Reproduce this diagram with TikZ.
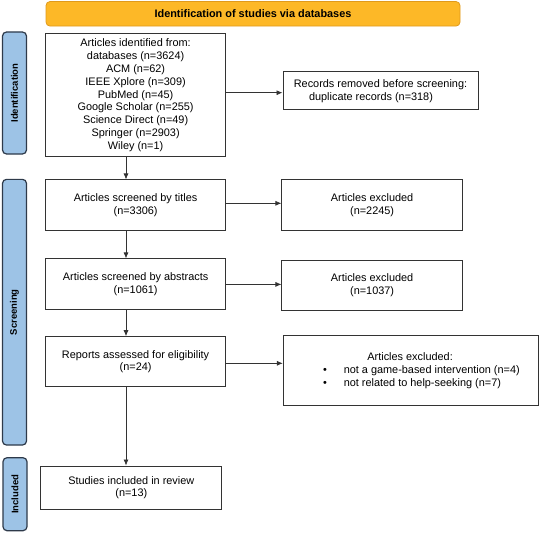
\documentclass[tikz,border=0pt]{standalone}
\usepackage{fontspec}
\setmainfont{Liberation Sans}
\usetikzlibrary{arrows.meta}
\definecolor{bannerfill}{HTML}{FDB827}
\definecolor{bannerline}{HTML}{E09A1C}
\definecolor{sidefill}{HTML}{9DC3E6}
\definecolor{sideline}{HTML}{2E3A4A}
\tikzset{
  boxst/.style={draw=black!80, line width=1pt, fill=white, inner sep=0pt,
    align=center, font=\fontsize{10.9}{12.8}\selectfont},
  bannerst/.style={draw=bannerline, line width=0.8pt, fill=bannerfill, rounded corners=4pt,
    inner sep=0pt, font=\bfseries\fontsize{10.9}{12.8}\selectfont},
  sidest/.style={draw=sideline, line width=1.2pt, fill=sidefill, rounded corners=4pt,
    inner sep=0pt, rotate=90, font=\bfseries\fontsize{9.5}{11}\selectfont},
  arr/.style={-{Latex[length=6pt,width=5pt]}, line width=0.7pt, draw=black!80}
}
\begin{document}
\begin{tikzpicture}[x=1pt,y=-1pt]
\useasboundingbox (0,0) rectangle (540,532);
% banner
\node[bannerst, minimum width=414pt, minimum height=24.5pt] (ban) at (253,13.8) {Identification of studies via databases};
% side bars
\node[sidest, minimum width=122pt, minimum height=24pt] (sid) at (14.5,93) {Identification};
\node[sidest, minimum width=265.7pt, minimum height=24pt] (sscr) at (14.5,312.2) {Screening};
\node[sidest, minimum width=73pt, minimum height=24pt] (sinc) at (15,494.2) {Included};
% boxes
\node[boxst, minimum width=179.7pt, minimum height=123pt] (b1) at (135.6,95.2)
  {Articles identified from:\\databases (n=3624)\\ACM (n=62)\\IEEE Xplore (n=309)\\PubMed (n=45)\\Google Scholar (n=255)\\Science Direct (n=49)\\Springer (n=2903)\\Wiley (n=1)};
\node[boxst, minimum width=195pt, minimum height=38.3pt] (rem) at (380.5,90.8)
  {Records removed before screening:\\duplicate records (n=318)\hspace*{19pt}};
\node[boxst, minimum width=179.5pt, minimum height=50.7pt] (tit) at (135.6,205.3)
  {Articles screened by titles\\(n=3306)};
\node[boxst, minimum width=180.3pt, minimum height=50.7pt] (ex1) at (372.1,205.3)
  {Articles excluded\\(n=2245)};
\node[boxst, minimum width=179.5pt, minimum height=51pt] (abs) at (135.6,284.4)
  {Articles screened by abstracts\\(n=1061)};
\node[boxst, minimum width=180.3pt, minimum height=50pt] (ex2) at (372.1,285)
  {Articles excluded\\(n=1037)};
\node[boxst, minimum width=179.5pt, minimum height=50pt] (rep) at (135.6,361.7)
  {Reports assessed for eligibility\\(n=24)};
\node[boxst, minimum width=255.4pt, minimum height=69.7pt] (ex3) at (411,370.8)
  {\hspace*{21pt}\begin{tabular}{@{}c@{\hspace{16.7pt}}l@{}}
   \multicolumn{2}{@{}l@{}}{\hspace*{44.2pt}Articles excluded:}\\
   • & not a game-based intervention (n=4)\\
   • & not related to help-seeking (n=7)
   \end{tabular}};
\node[boxst, minimum width=180.7pt, minimum height=43.3pt] (inc) at (131.3,487.7)
  {Studies included in review\\(n=13)};
% connectors
\draw[arr] ([xshift=-9.6pt]b1.south) -- ([xshift=-9.6pt]b1.south |- tit.north);
\draw[arr] ([xshift=-9.6pt]tit.south) -- ([xshift=-9.6pt]tit.south |- abs.north);
\draw[arr] ([xshift=-9.6pt]abs.south) -- ([xshift=-9.6pt]abs.south |- rep.north);
\draw[arr] ([xshift=-9.6pt]rep.south) -- ([xshift=-9.6pt]rep.south |- inc.north);
\draw[arr] ([yshift=-1.9pt]rem.west -| b1.east) -- ([yshift=-1.9pt]rem.west);
\draw[arr] ([yshift=2pt]tit.east) -- ([yshift=2pt]tit.east -| ex1.west);
\draw[arr] (abs.east) -- (abs.east -| ex2.west);
\draw[arr] ([yshift=-1.6pt]rep.east) -- ([yshift=-1.6pt]rep.east -| ex3.west);
\end{tikzpicture}
\end{document}
